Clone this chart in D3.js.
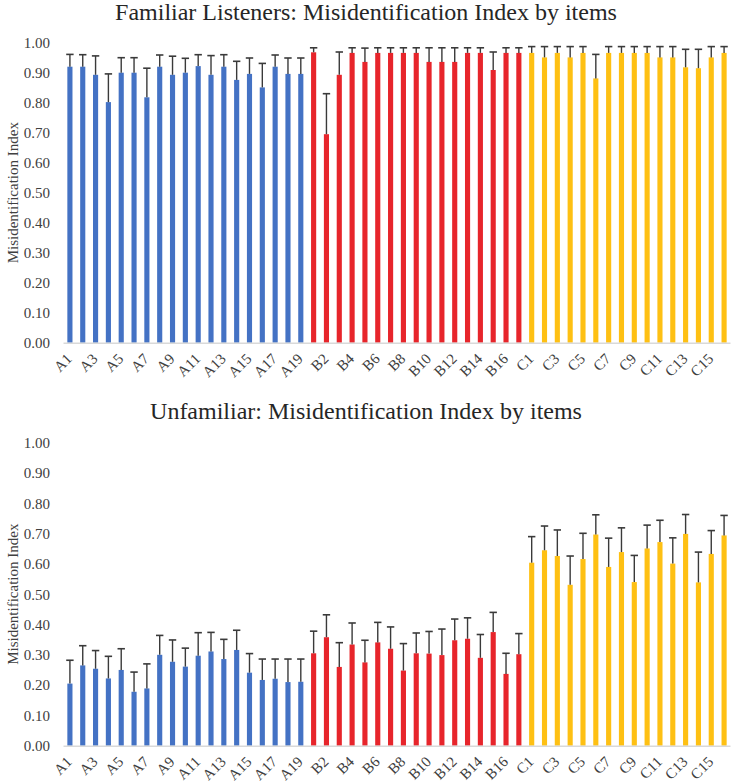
<!DOCTYPE html>
<html>
<head>
<meta charset="utf-8">
<script src="https://cdn.jsdelivr.net/npm/d3@7"></script>
<style>
  html, body { margin: 0; padding: 0; background: #ffffff; }
  svg { display: block; }
  svg text { font-family: "Liberation Serif", "Times New Roman", serif !important; }
</style>
</head>
<body>
<svg id="chart" width="738" height="784"></svg>
<script>
// ---- Data ----
const groupA = ["A1","A2","A3","A4","A5","A6","A7","A8","A9","A10","A11","A12","A13","A14","A15","A16","A17","A18","A19"];
const groupB = ["B1","B2","B3","B4","B5","B6","B7","B8","B9","B10","B11","B12","B13","B14","B15","B16","B17"];
const groupC = ["C1","C2","C3","C4","C5","C6","C7","C8","C9","C10","C11","C12","C13","C14","C15","C16"];
const categories = groupA.concat(groupB, groupC);

// Familiar listeners: mean and upper error (mean + error)
const familiarMean = [
  0.92,0.92,0.893,0.802,0.90,0.90,0.818,0.92,0.893,0.90,0.922,0.893,0.92,0.876,0.896,0.851,0.92,0.896,0.896,
  0.968,0.695,0.893,0.966,0.936,0.966,0.966,0.966,0.966,0.936,0.936,0.936,0.966,0.966,0.909,0.966,0.966,
  0.966,0.951,0.966,0.951,0.966,0.881,0.966,0.966,0.966,0.966,0.951,0.951,0.918,0.915,0.951,0.966
];
const familiarUpper = [
  0.961,0.96,0.956,0.896,0.95,0.95,0.915,0.959,0.955,0.948,0.96,0.957,0.96,0.938,0.949,0.931,0.959,0.949,0.949,
  0.983,0.83,0.969,0.983,0.982,0.983,0.983,0.983,0.983,0.983,0.983,0.983,0.983,0.983,0.969,0.983,0.983,
  0.987,0.987,0.987,0.987,0.987,0.961,0.987,0.987,0.987,0.987,0.987,0.987,0.978,0.978,0.987,0.987
];

// Unfamiliar listeners
const unfamiliarMean = [
  0.205,0.265,0.254,0.222,0.250,0.178,0.189,0.300,0.277,0.261,0.297,0.311,0.286,0.316,0.241,0.217,0.221,0.210,0.211,
  0.305,0.358,0.260,0.334,0.275,0.341,0.320,0.248,0.305,0.304,0.299,0.348,0.353,0.290,0.375,0.237,0.302,
  0.604,0.645,0.626,0.531,0.616,0.697,0.590,0.639,0.540,0.651,0.672,0.601,0.699,0.539,0.633,0.694
];
const unfamiliarUpper = [
  0.282,0.330,0.314,0.295,0.320,0.243,0.270,0.364,0.349,0.322,0.373,0.374,0.351,0.381,0.304,0.286,0.286,0.286,0.286,
  0.378,0.432,0.340,0.405,0.348,0.407,0.392,0.337,0.372,0.377,0.385,0.418,0.422,0.367,0.440,0.305,0.370,
  0.690,0.725,0.712,0.626,0.701,0.762,0.685,0.719,0.628,0.728,0.744,0.686,0.763,0.639,0.710,0.760
];

const yTicks = [0,0.1,0.2,0.3,0.4,0.5,0.6,0.7,0.8,0.9,1.0];
const tickLabelIdx = d3.range(0, categories.length, 2);

const groupColor = { A: "#4472C4", B: "#E7252B", C: "#FEC013" };
const SERIF = "Liberation Serif, Times New Roman, serif";

const panels = [
  { title: "Familiar Listeners: Misidentification Index by items", mean: familiarMean, upper: familiarUpper,
    titleY: 20, y0: 342.7, y1: 42.7 },
  { title: "Unfamiliar: Misidentification Index by items", mean: unfamiliarMean, upper: unfamiliarUpper,
    titleY: 419, y0: 745.7, y1: 442.7 }
];

const svg = d3.select("#chart");
const x = d3.scaleBand().domain(categories).range([63.5, 730.5]).paddingInner(0.6).paddingOuter(0.3);

panels.forEach(p => {
  const g = svg.append("g");
  const y = d3.scaleLinear().domain([0, 1]).range([p.y0, p.y1]);

  g.append("text")
    .attr("x", 366).attr("y", p.titleY)
    .attr("text-anchor", "middle")
    .attr("font-family", SERIF).attr("font-size", 24).attr("fill", "#262626")
    .text(p.title);

  // y-axis label
  g.append("text")
    .attr("transform", `translate(18,${(p.y0 + p.y1) / 2}) rotate(-90)`)
    .attr("text-anchor", "middle")
    .attr("font-family", SERIF).attr("font-size", 15).attr("fill", "#404040")
    .text("Misidentification Index");

  // y tick labels
  const yAxis = d3.axisLeft(y).tickValues(yTicks).tickFormat(d3.format(".2f")).tickSize(0).tickPadding(0);
  const ya = g.append("g").attr("transform", "translate(50,0)").call(yAxis)
    .attr("font-family", SERIF).attr("font-size", 15);
  ya.select(".domain").remove();
  ya.selectAll("text").attr("fill", "#404040");

  // bars
  g.selectAll("rect.bar").data(categories).enter().append("rect")
    .attr("x", d => x(d))
    .attr("width", x.bandwidth())
    .attr("y", (d, i) => y(p.mean[i]))
    .attr("height", (d, i) => y(0) - y(p.mean[i]))
    .attr("fill", d => groupColor[d[0]]);

  // error bars
  const eb = g.selectAll("g.err").data(categories).enter().append("g");
  eb.append("line")
    .attr("x1", d => x(d) + x.bandwidth() / 2).attr("x2", d => x(d) + x.bandwidth() / 2)
    .attr("y1", (d, i) => y(p.mean[i])).attr("y2", (d, i) => y(p.upper[i]))
    .attr("stroke", "#3a3a3a").attr("stroke-width", 1.4);
  eb.append("line")
    .attr("x1", d => x(d) + x.bandwidth() / 2 - 3.7).attr("x2", d => x(d) + x.bandwidth() / 2 + 3.7)
    .attr("y1", (d, i) => y(p.upper[i])).attr("y2", (d, i) => y(p.upper[i]))
    .attr("stroke", "#3a3a3a").attr("stroke-width", 1.6);

  // x axis
  const xa = g.append("g").attr("transform", `translate(0,${p.y0})`)
    .call(d3.axisBottom(x).tickValues(tickLabelIdx.map(i => categories[i])).tickSize(0).tickPadding(0))
    .attr("font-family", SERIF).attr("font-size", 15);
  xa.select(".domain").attr("stroke", "#d9d9d9").attr("stroke-width", 1.5).attr("d", "M63.5,0.5H730.5");
  xa.selectAll("text")
    .attr("fill", "#404040")
    .attr("text-anchor", "end")
    .attr("dy", null).attr("y", 0)
    .attr("transform", "translate(3,17) rotate(-45)");
});
</script>
</body>
</html>
